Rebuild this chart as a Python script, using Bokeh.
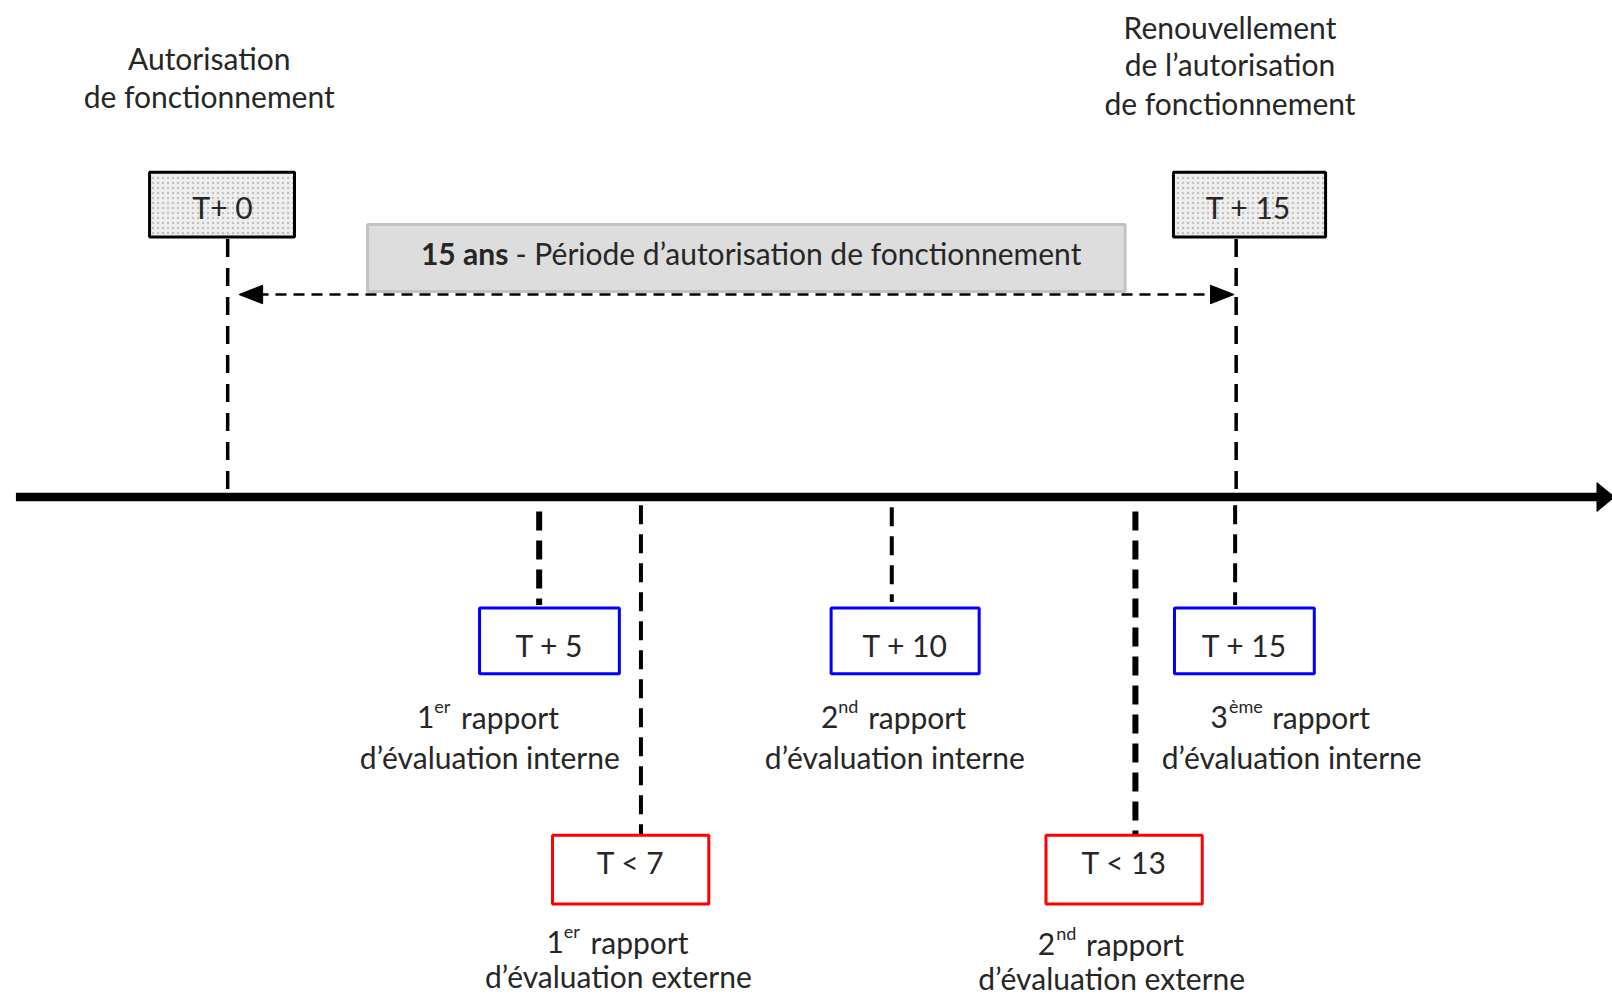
from bokeh.plotting import figure
from bokeh.models import Range1d
from bokeh.core.properties import value
from bokeh.embed import file_html
from bokeh.resources import INLINE

# ---------------- content ----------------
top_left_title = ["Autorisation", "de fonctionnement"]
top_right_title = ["Renouvellement", "de l’autorisation", "de fonctionnement"]
top_box_labels = ["T+ 0", "T + 15"]
period_bold = "15 ans"
period_text = "- Période d’autorisation de fonctionnement"

internal_labels = ["T + 5", "T + 10", "T + 15"]
internal_num = ["1", "2", "3"]
internal_sup = ["er", "nd", "ème"]
external_labels = ["T < 7", "T < 13"]
external_num = ["1", "2"]
external_sup = ["er", "nd"]
word_rapport = "rapport"
internal_line2 = "d’évaluation interne"
external_line2 = "d’évaluation externe"

# ---------------- layout (diagram units) ----------------
S = 1.028
W, H = 1612, 997
FONT = value("Lato")
TXT = "#262626"
FS = "30px"
FS_SUP = "18px"

p = figure(width=W, height=H,
           x_range=Range1d(0, W / S),
           y_range=Range1d(H / S, 0),
           output_backend="svg", toolbar_location=None, min_border=0,
           x_axis_location=None, y_axis_location=None)
p.grid.visible = False
p.outline_line_color = None
p.background_fill_color = "white"
p.border_fill_color = "white"


def txt(x, y, t, align="center", size=FS, style="normal"):
    p.text(x=x, y=y, text=t, text_align=align, text_baseline="middle",
           text_font=FONT, text_font_size=size, text_color=TXT,
           text_font_style=style)


# top titles
txt([203, 203], [56, 93], top_left_title)
txt([1196, 1196, 1196], [26, 62, 100], top_right_title)

# vertical dashed lines from top boxes down to axis
p.segment(x0=[221, 1202], y0=[232, 232], x1=[221, 1202], y1=[481, 481],
          line_color="black", line_width=3.5, line_dash="18 11")

# top boxes
p.quad(left=[145, 1141], right=[286, 1289], top=[167, 167], bottom=[230, 230],
       fill_color="#efefef", line_color="black", line_width=3,
       hatch_pattern=".", hatch_color="#b5b5b5", hatch_scale=5, hatch_alpha=0.8)
txt([216, 1214], [201, 201], top_box_labels)

# grey period banner
p.quad(left=[357], right=[1094], top=[218], bottom=[283],
       fill_color="#dddddd", line_color="#c3c3c3", line_width=3)
txt([494], [246], [period_bold], align="right", style="bold")
txt([501], [246], [period_text], align="left")

# dashed double arrow
p.segment(x0=[250], y0=[286], x1=[1182], y1=[286],
          line_color="black", line_width=2.5, line_dash="11 7")
p.patches(xs=[[232, 255, 255], [1200, 1177, 1177]],
          ys=[[286, 277, 295], [286, 277, 295]],
          fill_color="black", line_color="black", line_width=1)

# main time axis
p.segment(x0=[15], y0=[483], x1=[1556], y1=[483], line_color="black",
          line_width=8.5)
p.patch(x=[1553, 1570, 1553], y=[469, 483, 497], fill_color="black",
        line_color="black")

# lower dashed connectors
p.segment(x0=[524, 1104], y0=[497, 497], x1=[524, 1104], y1=[588, 811],
          line_color="black", line_width=6, line_dash="19 10")
p.segment(x0=[623, 867, 1201], y0=[491, 493, 491], x1=[623, 867, 1201],
          y1=[811, 585, 588], line_color="black", line_width=4,
          line_dash="19 10")

# internal (blue) boxes
p.quad(left=[466, 808, 1142], right=[602, 952, 1278],
       top=[591, 591, 591], bottom=[655, 655, 655],
       fill_color="white", line_color="#0000ff", line_width=3)
txt([534, 880, 1210], [627, 627, 627], internal_labels)

# external (red) boxes
p.quad(left=[537, 1017], right=[689, 1169], top=[812, 812], bottom=[879, 879],
       fill_color="white", line_color="#ff0000", line_width=3)
txt([613, 1093], [838, 838], external_labels)

# captions with superscripts
num_x_int = [422, 815, 1194]
sup_x_int = [422, 815, 1195]
rap_x_int = [448, 844, 1237]
txt(num_x_int, [697] * 3, internal_num, align="right")
txt(sup_x_int, [686] * 3, internal_sup, align="left", size=FS_SUP)
txt(rap_x_int, [697] * 3, [word_rapport] * 3, align="left")
txt([476, 870, 1256], [736] * 3, [internal_line2] * 3)

num_x_ext = [548, 1026]
sup_x_ext = [548, 1027]
rap_x_ext = [574, 1056]
txt(num_x_ext, [916, 918], external_num, align="right")
txt(sup_x_ext, [905, 907], external_sup, align="left", size=FS_SUP)
txt(rap_x_ext, [916, 918], [word_rapport] * 2, align="left")
txt([601, 1081], [949, 951], [external_line2] * 2)

open("out.html", "w").write(file_html(p, INLINE))
